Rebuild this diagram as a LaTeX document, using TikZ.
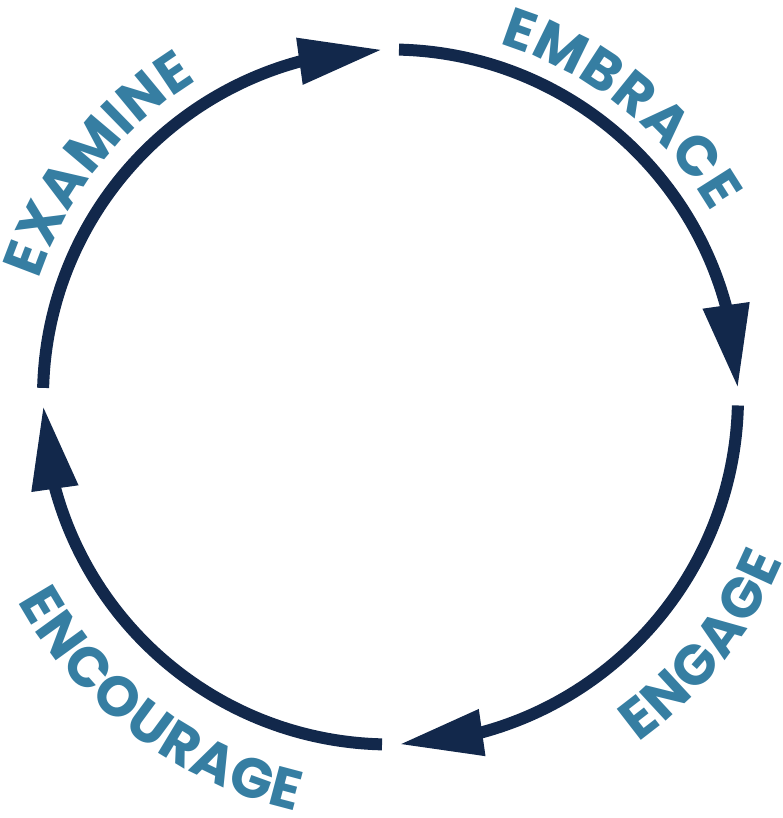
\documentclass[tikz,border=0pt]{standalone}
\usepackage{fontspec}
\newfontfamily\labfont{Poppins}
\usetikzlibrary{arrows.meta,bending,decorations.text,calc}
\definecolor{ringcol}{HTML}{12284B}
\definecolor{labcol}{HTML}{367EA2}
\tikzset{
  ring/.style={line width=12pt, draw=ringcol, line cap=butt,
    -{Triangle[length=84pt,width=44pt,flex]}},
  lab/.style={decorate, decoration={text effects along path, text={#1},
    text align=center, text effects/.cd, text along path,
    characters={text=labcol, anchor=base},
    character widths={inner xsep=0.6pt}}}
}
\begin{document}
\begin{tikzpicture}[x=1pt,y=1pt]
\useasboundingbox (0,0) rectangle (782,818);
\coordinate (c) at (390.5,421);
% ring arcs
\draw[ring] ($(c)+(178.5:347.5)$) arc[start angle=178.5, end angle=91.3, radius=347.5];
\draw[ring] ($(c)+(88.6:347.5)$) arc[start angle=88.6, end angle=1.4, radius=347.5];
\draw[ring] ($(c)+(-1.4:347.5)$) arc[start angle=-1.4, end angle=-88.6, radius=347.5];
\draw[ring] ($(c)+(-91.4:347.5)$) arc[start angle=-91.4, end angle=-178.6, radius=347.5];
% labels
\begin{scope}[font=\labfont\bfseries\fontsize{56}{60}\selectfont]
\path[lab=EXAMINE] ($(c)+(186.5:371)$) arc[start angle=186.5, end angle=96.5, radius=371];
\path[lab=EMBRACE] ($(c)+(96.4:370)$) arc[start angle=96.4, end angle=6.4, radius=370];
\path[lab=ENGAGE] ($(c)+(-83.5:425)$) arc[start angle=-83.5, end angle=6.5, radius=425];
\path[lab=ENCOURAGE] ($(c)+(-182:425)$) arc[start angle=-182, end angle=-72, radius=425];
\end{scope}
\end{tikzpicture}
\end{document}
